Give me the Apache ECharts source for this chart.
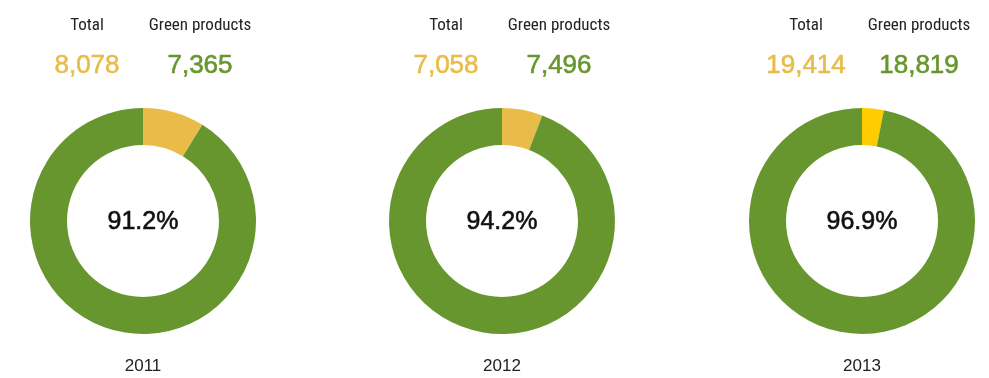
<!DOCTYPE html>
<html>
<head>
<meta charset="utf-8">
<script src="https://cdn.jsdelivr.net/npm/echarts@6/dist/echarts.min.js"></script>
<style>
  html, body { margin: 0; padding: 0; background: #fff; }
  #chart { width: 989px; height: 378px; }
</style>
</head>
<body>
<div id="chart"></div>
<script>
// Yearly figures
const years = ['2011', '2012', '2013'];
const totals = [8078, 7058, 19414];
const greenProducts = [7365, 7496, 18819];
const greenShare = [91.2, 94.2, 96.9];

// Layout and colours
const centersX = [143, 502, 862];
const centerY = 221;
const GREEN = '#67962e';
const restColors = ['#e9bc4a', '#e9bc4a', '#ffcc00'];
const TOTAL_COLOR = '#e9bc4a';
const NARROW = '"Liberation Sans Narrow", "Roboto Condensed", "Liberation Sans", sans-serif';
const SANS = '"Liberation Sans", Arial, sans-serif';

const fmt = n => n.toLocaleString('en-US');

const series = years.map((y, i) => ({
  type: 'pie',
  center: [centersX[i], centerY],
  radius: [76, 113],
  startAngle: 90,
  clockwise: true,
  silent: true,
  avoidLabelOverlap: false,
  label: { show: false },
  labelLine: { show: false },
  itemStyle: { borderWidth: 0 },
  data: [
    { value: +(100 - greenShare[i]).toFixed(1), name: 'Other', itemStyle: { color: restColors[i] } },
    { value: greenShare[i], name: 'Green products', itemStyle: { color: GREEN } }
  ]
}));

// Slightly heavier number text: regular face plus a hairline outline
const heavy = (text, size, color) => ({
  text, font: size + 'px ' + SANS, fill: color, stroke: color, lineWidth: 0.6,
  align: 'center', verticalAlign: 'middle'
});

const graphic = [];
years.forEach((y, i) => {
  const cx = centersX[i];
  const lx = cx - 56, rx = cx + 57;
  graphic.push(
    { type: 'text', x: lx, y: 26, style: { text: 'Total', font: '17px ' + NARROW, fill: '#222', align: 'center', verticalAlign: 'middle' } },
    { type: 'text', x: rx, y: 26, style: { text: 'Green products', font: '17px ' + NARROW, fill: '#222', align: 'center', verticalAlign: 'middle' } },
    { type: 'text', x: lx, y: 66, style: heavy(fmt(totals[i]), 26, TOTAL_COLOR) },
    { type: 'text', x: rx, y: 66, style: heavy(fmt(greenProducts[i]), 26, GREEN) },
    { type: 'text', x: cx, y: centerY + 1, style: heavy(greenShare[i].toFixed(1) + '%', 25, '#111') },
    { type: 'text', x: cx, y: 366, style: { text: y, font: '17px ' + SANS, fill: '#222', align: 'center', verticalAlign: 'middle' } }
  );
});

const chart = echarts.init(document.getElementById('chart'), null, { renderer: 'canvas' });
chart.setOption({
  animation: false,
  backgroundColor: '#fff',
  series: series,
  graphic: graphic
});
</script>
</body>
</html>
